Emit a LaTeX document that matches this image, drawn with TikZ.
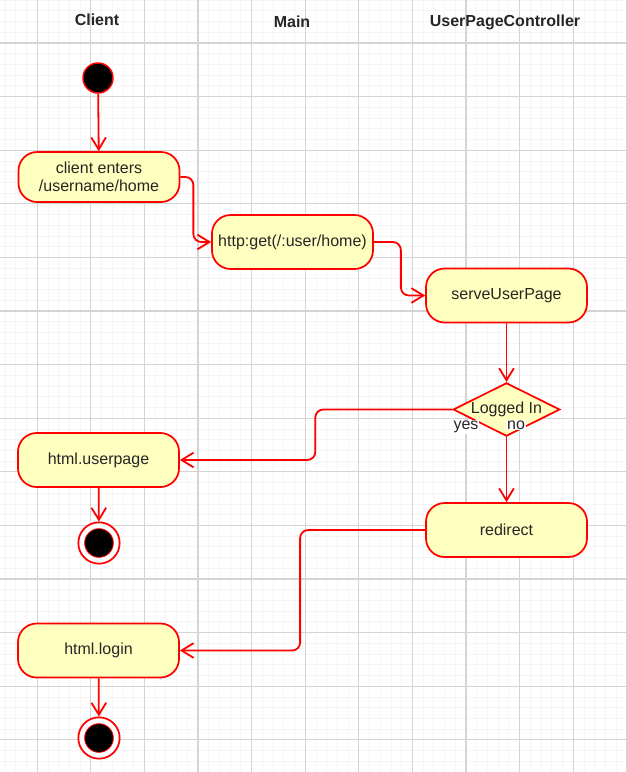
\documentclass[tikz,border=0pt]{standalone}
\usepackage{fontspec}
\setmainfont{Liberation Sans}
\usetikzlibrary{shapes.geometric,arrows.meta}

\definecolor{actfill}{HTML}{FFFFC0}
\definecolor{txt}{HTML}{262626}
\definecolor{gridmajor}{HTML}{D4D4D4}
\definecolor{gridminor}{HTML}{F5F5F5}

\tikzset{
	action/.style={draw=red, line width=1.3pt, fill=actfill, rounded corners=14pt,
		minimum width=120.75pt, minimum height=40.5pt, align=center, text=txt,
		font=\fontsize{12}{13.5}\selectfont},
	decision/.style={diamond, draw=red, line width=1.3pt, fill=actfill, aspect=2,
		minimum width=80pt, minimum height=40pt, inner sep=0pt, text=txt,
		font=\fontsize{12}{13.5}\selectfont},
	startdot/.style={circle, draw=red, fill=black, line width=1.1pt,
		minimum size=22.5pt, inner sep=0pt},
	endring/.style={circle, draw=red, fill=white, line width=1.3pt,
		minimum size=31pt, inner sep=0pt},
	enddot/.style={circle, draw=red, fill=black, line width=0.6pt,
		minimum size=21.5pt, inner sep=0pt},
	lane/.style={font=\fontsize{12}{14}\selectfont\bfseries, text=txt},
	guard/.style={fill=white, inner sep=0.5pt, text=txt,
		font=\fontsize{12}{13.5}\selectfont},
	flow/.style={draw=red, line width=1.35pt, rounded corners=6pt,
		-{Straight Barb[length=9pt,width=11pt]}},
	minorline/.style={gridminor, line width=0.6pt},
	majorline/.style={gridmajor, line width=0.9pt}
}

\begin{document}
\begin{tikzpicture}[x=0.75pt,y=-0.75pt]
	\useasboundingbox (0,0) rectangle (627,772);
	\fill[white] (0,0) rectangle (627,772);
	
	% Grid
	\foreach \i in {0,...,58}
		\draw[minorline] ({5.04+10.72*\i},0) -- ({5.04+10.72*\i},772);
	\foreach \i in {0,...,72}
		\draw[minorline] (0,{0.12+10.72*\i}) -- (627,{0.12+10.72*\i});
	\foreach \i in {0,...,11}
		\draw[majorline] ({37.2+53.6*\i},0) -- ({37.2+53.6*\i},772);
	\foreach \i in {0,...,13}
		\draw[majorline] (0,{43+53.6*\i}) -- (627,{43+53.6*\i});
	
	% Swimlane titles
	\node[lane] (client) at (97,20) {Client};
	\node[lane] (main) at (292,22) {Main};
	\node[lane] (upc) at (505,22) {UserPageController};
	
	% Activities
	\node[startdot] (start) at (98,78) {};
	\node[action, minimum height=37.5pt] (enter) at (99,177) {client enters\\/username/home};
	\node[action] (get) at (292.5,242) {http:get(/:user/home)};
	\node[action] (serve) at (506.5,295.5) {serveUserPage};
	\node[decision] (logged) at (506.5,409.5) {Logged In};
	\node[action] (userpage) at (98.5,460) {html.userpage};
	\node[action] (redirect) at (506.5,530) {redirect};
	\node[action] (login) at (98.5,650.5) {html.login};
	
	% End states
	\node[endring] (end1) at (99,543) {};
	\node[enddot] (end1dot) at (end1) {};
	\node[endring] (end2) at (99,738) {};
	\node[enddot] (end2dot) at (end2) {};
	
	% Flows
	\draw[flow] (start) -- (enter);
	\draw[flow] (enter.east) -- ++(13,0) |- (get.west);
	\draw[flow] (get.east) -- ++(27,0) |- (serve.west);
	\draw[flow] (serve) -- (logged);
	\draw[flow] (logged.west) -- ++(-137,0) |- (userpage.east);
	\draw[flow] (logged) -- (redirect);
	\draw[flow] (redirect.west) -- ++(-125,0) |- (login.east);
	\draw[flow] (userpage) -- (end1);
	\draw[flow] (login) -- (end2);
	
	% Guards
	\node[guard] (yes) at (466,427) {yes};
	\node[guard] (no) at (516,425) {no};
\end{tikzpicture}
\end{document}
